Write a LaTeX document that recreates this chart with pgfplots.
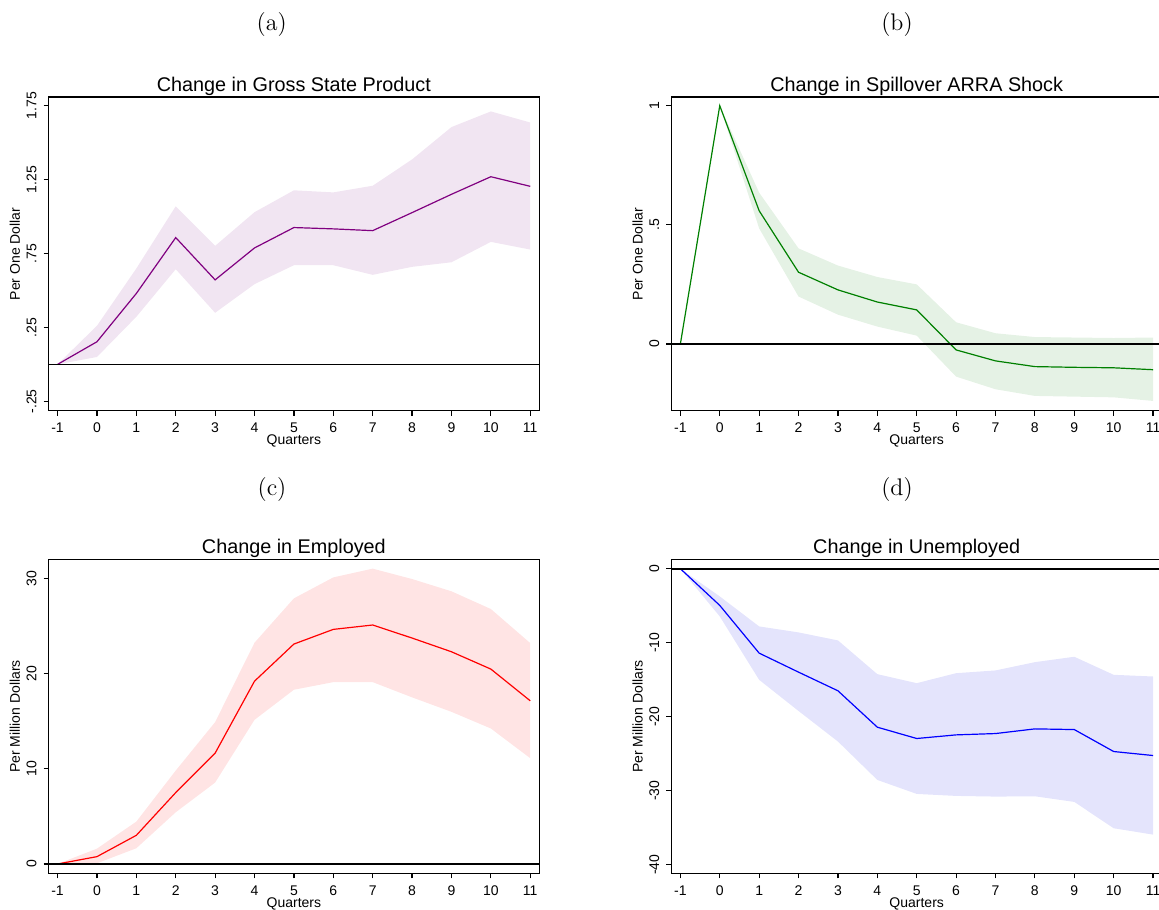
\documentclass[border=0pt]{standalone}
\usepackage{fontspec}
\usepackage{pgfplots}
\pgfplotsset{compat=1.18}
\usepackage{pgfplotstable}
\usepgfplotslibrary{fillbetween}
\newfontfamily\helv{Liberation Sans}

\definecolor{lnA}{RGB}{128,0,128}
\definecolor{bdA}{RGB}{241,229,242}
\definecolor{lnB}{RGB}{0,128,0}
\definecolor{bdB}{RGB}{229,242,229}
\definecolor{lnC}{RGB}{255,0,0}
\definecolor{bdC}{RGB}{255,228,228}
\definecolor{lnD}{RGB}{0,0,255}
\definecolor{bdD}{RGB}{228,228,252}

\pgfplotstableread{
x mid lo hi
-1 0 0 0
0 0.153 0.05 0.261
1 0.48 0.322 0.649
2 0.858 0.644 1.07
3 0.572 0.349 0.802
4 0.788 0.543 1.03
5 0.926 0.671 1.178
6 0.917 0.671 1.164
7 0.905 0.606 1.209
8 1.027 0.66 1.387
9 1.151 0.691 1.606
10 1.27 0.829 1.712
11 1.205 0.777 1.637
}\tabA

\pgfplotstableread{
x mid lo hi
-1 0 0 0
0 1 1 1
1 0.559 0.485 0.635
2 0.301 0.199 0.401
3 0.227 0.123 0.329
4 0.176 0.073 0.281
5 0.143 0.035 0.25
6 -0.025 -0.137 0.091
7 -0.071 -0.19 0.045
8 -0.095 -0.218 0.029
9 -0.098 -0.221 0.027
10 -0.10 -0.224 0.025
11 -0.108 -0.239 0.027
}\tabB

\pgfplotstableread{
x mid lo hi
-1 0 0 0
0 0.77 0.07 1.61
1 3.01 1.65 4.45
2 7.5 5.43 9.81
3 11.64 8.55 14.9
4 19.2 15.14 23.24
5 23.1 18.3 27.9
6 24.64 19.1 30.1
7 25.1 19.1 31.02
8 23.73 17.5 29.93
9 22.29 15.98 28.64
10 20.47 14.23 26.78
11 17.14 11.11 23.2
}\tabC

\pgfplotstableread{
x mid lo hi
-1 0 0 0
0 -4.96 -6.45 -3.74
1 -11.41 -15.02 -7.8
2 -13.98 -19.23 -8.61
3 -16.5 -23.36 -9.69
4 -21.42 -28.55 -14.25
5 -22.95 -30.44 -15.47
6 -22.46 -30.71 -14.12
7 -22.28 -30.8 -13.75
8 -21.65 -30.76 -12.63
9 -21.74 -31.52 -11.9
10 -24.71 -35.08 -14.34
11 -25.25 -35.94 -14.57
}\tabD

\pgfplotsset{
  panel/.style={
    scale only axis,
    width=245.4pt, height=156.8pt,
    anchor=south west,
    xmin=-1.23, xmax=11.23,
    xtick={-1,0,1,2,3,4,5,6,7,8,9,10,11},
    xticklabels={-1,0,1,2,3,4,5,6,7,8,9,10,11},
    tick align=outside, tick pos=left,
    major tick length=2.5pt,
    axis line style={line width=0.7pt},
    every tick/.style={black, line width=0.6pt},
    tick label style={font=\helv\fontsize{7}{8}\selectfont},
    yticklabel style={rotate=90, anchor=south},
    label style={font=\helv\fontsize{7}{8}\selectfont},
    xlabel={Quarters},
    xlabel style={at={(axis description cs:0.5,0)}, anchor=center, yshift=-15.2pt},
    ylabel style={at={(axis description cs:-0.0687,0.5)}, anchor=center},
    title style={font=\helv\fontsize{9.9}{11}\selectfont, at={(axis description cs:0.5,1)}, anchor=base, yshift=-3.1pt},
    clip=false,
  },
}

\begin{document}
\begin{tikzpicture}
\node[font=\fontsize{12}{14}\selectfont] at (135.85pt,442pt) {(a)};
\node[font=\fontsize{12}{14}\selectfont] at (448.5pt,442pt) {(b)};
\node[font=\fontsize{12}{14}\selectfont] at (136pt,209.5pt) {(c)};
\node[font=\fontsize{12}{14}\selectfont] at (448.5pt,209.5pt) {(d)};

% (a)
\begin{axis}[panel, at={(24.25pt,249.15pt)},
  ymin=-0.3136, ymax=1.809,
  ytick={-0.25,0.25,0.75,1.25,1.75},
  yticklabels={-.25,.25,.75,1.25,1.75},
  title={Change in Gross State Product}, ylabel={Per One Dollar}]
\addplot[name path=hi, draw=none] table[x=x,y=hi] {\tabA};
\addplot[name path=lo, draw=none] table[x=x,y=lo] {\tabA};
\addplot[fill=bdA, draw=none] fill between[of=hi and lo];
\addplot[lnA, line width=0.6pt] table[x=x,y=mid] {\tabA};
\addplot[black, line width=0.8pt] coordinates {(-1.23,0) (11.23,0)};
\end{axis}

% (b)
\begin{axis}[panel, at={(335.65pt,249.15pt)},
  ymin=-0.280, ymax=1.036,
  ytick={0,0.5,1},
  yticklabels={0,.5,1},
  title={Change in Spillover ARRA Shock}, ylabel={Per One Dollar}]
\addplot[name path=hi, draw=none] table[x=x,y=hi] {\tabB};
\addplot[name path=lo, draw=none] table[x=x,y=lo] {\tabB};
\addplot[fill=bdB, draw=none] fill between[of=hi and lo];
\addplot[lnB, line width=0.6pt] table[x=x,y=mid] {\tabB};
\addplot[black, line width=0.8pt] coordinates {(-1.23,0) (11.23,0)};
\end{axis}

% (c)
\begin{axis}[panel, at={(24.25pt,17.85pt)},
  ymin=-0.98, ymax=31.96,
  ytick={0,10,20,30},
  yticklabels={0,10,20,30},
  title={Change in Employed}, ylabel={Per Million Dollars}]
\addplot[name path=hi, draw=none] table[x=x,y=hi] {\tabC};
\addplot[name path=lo, draw=none] table[x=x,y=lo] {\tabC};
\addplot[fill=bdC, draw=none] fill between[of=hi and lo];
\addplot[lnC, line width=0.6pt] table[x=x,y=mid] {\tabC};
\addplot[black, line width=0.8pt] coordinates {(-1.23,0) (11.23,0)};
\end{axis}

% (d)
\begin{axis}[panel, at={(335.65pt,17.85pt)},
  ymin=-41.17, ymax=1.22,
  ytick={-40,-30,-20,-10,0},
  yticklabels={-40,-30,-20,-10,0},
  title={Change in Unemployed}, ylabel={Per Million Dollars}]
\addplot[name path=hi, draw=none] table[x=x,y=hi] {\tabD};
\addplot[name path=lo, draw=none] table[x=x,y=lo] {\tabD};
\addplot[fill=bdD, draw=none] fill between[of=hi and lo];
\addplot[lnD, line width=0.6pt] table[x=x,y=mid] {\tabD};
\addplot[black, line width=1pt] coordinates {(-1.23,0) (11.23,0)};
\end{axis}

\pgfresetboundingbox
\path[use as bounding box] (0,0) rectangle (579.5pt,454.5pt);
\end{tikzpicture}
\end{document}
